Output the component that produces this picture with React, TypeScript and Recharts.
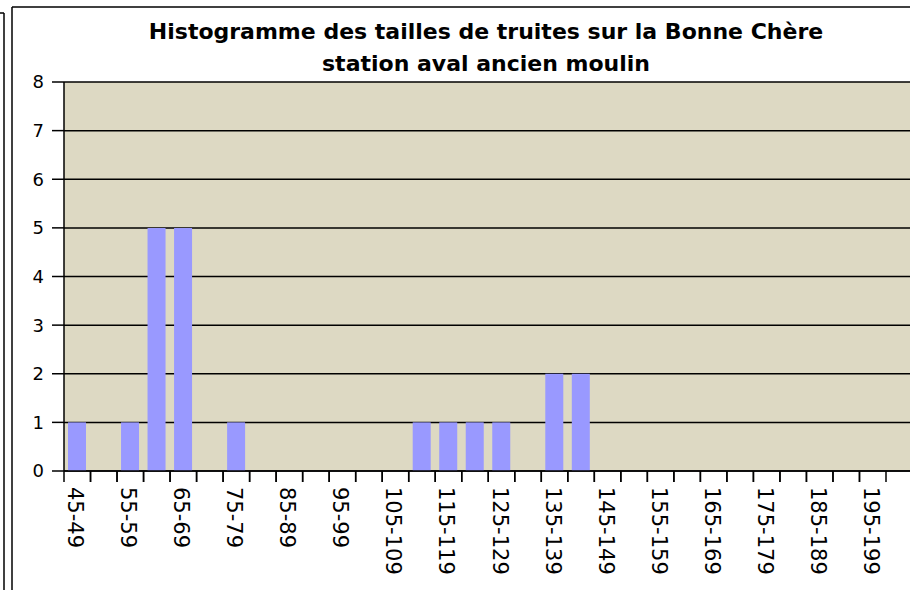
import React from 'react';
import { BarChart, Bar, XAxis, YAxis, CartesianGrid } from 'recharts';

// classes de taille (mm) et effectifs
const classes = [
  '45-49', '50-54', '55-59', '60-64', '65-69', '70-74', '75-79', '80-84',
  '85-89', '90-94', '95-99', '100-104', '105-109', '110-114', '115-119', '120-124',
  '125-129', '130-134', '135-139', '140-144', '145-149', '150-154', '155-159', '160-164',
  '165-169', '170-174', '175-179', '180-184', '185-189', '190-194', '195-199'
];
const effectifs = [
  1, 0, 1, 5, 5, 0, 1, 0,
  0, 0, 0, 0, 0, 1, 1, 1,
  1, 0, 2, 2, 0, 0, 0, 0,
  0, 0, 0, 0, 0, 0, 0
];
const yTicks = [0, 1, 2, 3, 4, 5, 6, 7, 8];
const titre1 = 'Histogramme des tailles de truites sur la Bonne Chère';
const titre2 = 'station aval ancien moulin';

const data = classes.map((c, i) => ({ classe: c, n: effectifs[i] }));

const CHART_W = 940;
const CHART_H = 590;
const Y_AXIS_W = 64;
const PAD_RIGHT = 54;
const BAND = (CHART_W - Y_AXIS_W - PAD_RIGHT) / classes.length;
const FONT = '"DejaVu Sans", sans-serif';

// ticks aux limites des classes, une étiquette sur deux, texte vertical
function ClassTick(props: any) {
  const { x, y, payload } = props;
  const i = payload?.index ?? props.index;
  const half = BAND / 2;
  return (
    <g>
      <line x1={x - half} x2={x - half} y1={y} y2={y + 11} stroke="#000" strokeWidth={1.5} />
      <line x1={x + half} x2={x + half} y1={y} y2={y + 11} stroke="#000" strokeWidth={1.5} />
      {i % 2 === 0 && (
        <text
          transform={`translate(${x - 9}, ${y + 16}) rotate(90)`}
          fontSize={21}
          fontFamily={FONT}
          fill="#000"
          textAnchor="start"
        >
          {payload.value}
        </text>
      )}
    </g>
  );
}

export default function App() {
  return (
    <div style={{ position: 'absolute', left: 0, top: 0, width: 910, height: 590, overflow: 'hidden', background: '#fff' }}>
      <BarChart
        width={CHART_W}
        height={CHART_H}
        data={data}
        margin={{ top: 82, right: 0, bottom: 0, left: 0 }}
      >
        <CartesianGrid vertical={false} stroke="#000" strokeWidth={1.5} fill="#DDD9C3" fillOpacity={1} />
        <XAxis
          dataKey="classe"
          interval={0}
          height={119}
          padding={{ left: 0, right: PAD_RIGHT }}
          tickLine={false}
          tickSize={0}
          tickMargin={0}
          axisLine={{ stroke: '#000', strokeWidth: 1.5 }}
          tick={<ClassTick />}
        />
        <YAxis
          width={Y_AXIS_W}
          domain={[0, 8]}
          ticks={yTicks}
          interval={0}
          tickSize={12}
          tickMargin={8}
          axisLine={{ stroke: '#000', strokeWidth: 1.5 }}
          tickLine={{ stroke: '#000', strokeWidth: 1.5 }}
          tick={{ fill: '#000', fontSize: 18, fontFamily: FONT }}
        />
        <Bar dataKey="n" fill="#9999FF" barSize={18} isAnimationActive={false} />
      </BarChart>

      {/* cadre et titre */}
      <svg width={910} height={590} style={{ position: 'absolute', left: 0, top: 0, pointerEvents: 'none' }}>
        <line x1={4} x2={4} y1={13} y2={590} stroke="#000" strokeWidth={1.5} />
        <line x1={0} x2={4} y1={13} y2={13} stroke="#000" strokeWidth={1.5} />
        <line x1={12} x2={12} y1={7} y2={590} stroke="#000" strokeWidth={1.5} />
        <line x1={12} x2={910} y1={7} y2={7} stroke="#000" strokeWidth={1.5} />
        <text x={486} y={39} textAnchor="middle" fontSize={22} fontWeight="bold" fontFamily={FONT} fill="#000">
          {titre1}
        </text>
        <text x={486} y={71} textAnchor="middle" fontSize={22} fontWeight="bold" fontFamily={FONT} fill="#000">
          {titre2}
        </text>
      </svg>
    </div>
  );
}
